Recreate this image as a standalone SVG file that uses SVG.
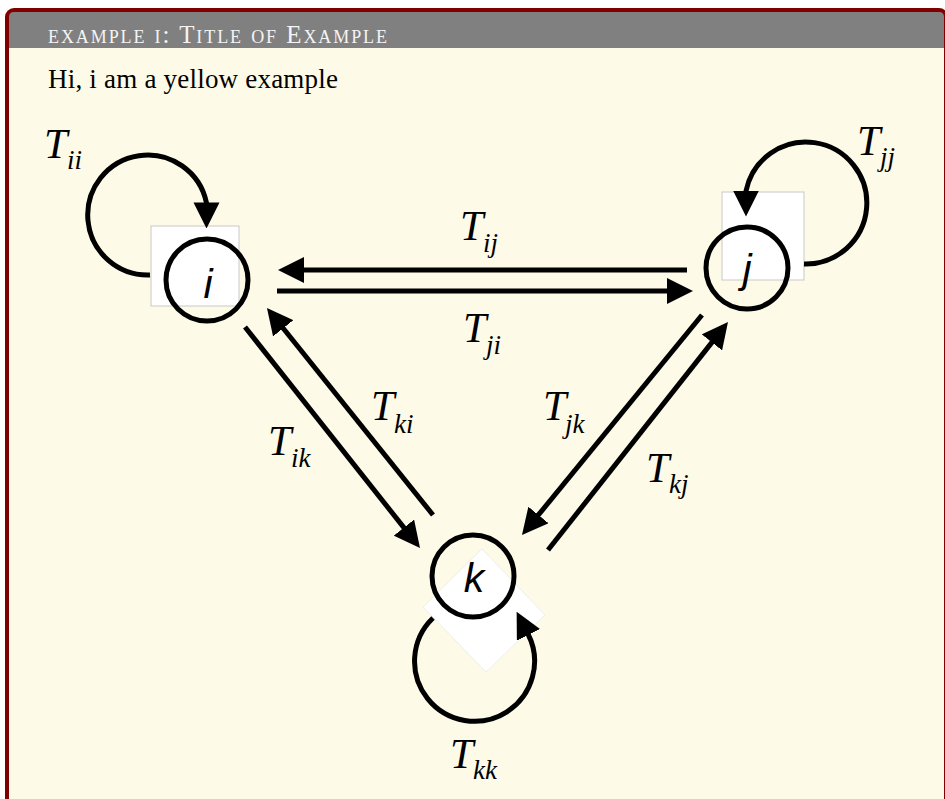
<svg xmlns="http://www.w3.org/2000/svg" width="945" height="799" viewBox="0 0 945 799">
  <defs>
    <marker id="ah" markerUnits="userSpaceOnUse" markerWidth="26" markerHeight="26" viewBox="0 0 26 26" refX="1" refY="13" orient="auto">
      <path d="M0,0 L26,13 L0,26 Z" fill="#000"/>
    </marker>
    <style>
      .edge { fill: none; stroke: #000; stroke-width: 5; marker-end: url(#ah); }
      .ring { fill: none; stroke: #000; stroke-width: 5; }
      .box { fill: #fff; stroke: #c8c8c8; stroke-width: 1; }
      .nlbl { font-family: "Liberation Sans", Arial, sans-serif; font-style: italic; font-size: 41px; fill: #000; text-anchor: middle; }
      .lbl { font-family: "Liberation Serif", "Times New Roman", serif; font-style: italic; font-size: 42px; fill: #000; }
      .sub { font-size: 27px; }
    </style>
  </defs>

  <!-- frame -->
  <g id="frame">
    <rect x="5" y="8" width="943" height="840" rx="9" fill="#800000"/>
    <rect x="9" y="48" width="935" height="800" fill="#fefae8"/>
    <path d="M9,48 V17 Q9,12 14,12 H939 Q944,12 944,17 V48 Z" fill="#808080"/>
    <text x="48" y="43" textLength="339" lengthAdjust="spacing" style="font-family:'Liberation Serif','Times New Roman',serif;font-size:25px;font-variant:small-caps;fill:#f4f4f4">example i: Title of Example</text>
    <text x="48" y="88" textLength="290" lengthAdjust="spacing" style="font-family:'Liberation Serif','Times New Roman',serif;font-size:27px;fill:#000">Hi, i am a yellow example</text>
  </g>

  <!-- nodes -->
  <g id="node-i">
    <rect class="box" x="151" y="226" width="88" height="80"/>
    <circle class="ring" cx="207" cy="280" r="41"/>
    <text class="nlbl" x="208" y="298">i</text>
  </g>
  <g id="node-j">
    <rect class="box" x="722" y="192" width="82" height="88"/>
    <circle class="ring" cx="747" cy="268" r="41"/>
    <text class="nlbl" x="747" y="283">j</text>
  </g>
  <g id="node-k">
    <polygon points="482,549 545,615 486,672 423,607" fill="#fff" stroke="#eeeeee" stroke-width="1"/>
    <circle class="ring" cx="473" cy="576" r="41"/>
    <text class="nlbl" x="474" y="592">k</text>
  </g>

  <!-- connectors -->
  <g id="connectors">
    <!-- self loops -->
    <path class="edge" d="M150,275 A60,60 0 1,1 206.5,203 L206.5,203.5"/>
    <path class="edge" d="M804,264 A61,61 0 1,0 746,191 L746,191.5"/>
    <path class="edge" d="M433,618 A60,60 0 1,0 528,634"/>
    <!-- i <-> j -->
    <path class="edge" d="M687,270 L303,270"/>
    <path class="edge" d="M277,291 L668,291"/>
    <!-- i <-> k -->
    <path class="edge" d="M245,327 L404.5,528.4"/>
    <path class="edge" d="M433,515 L282.6,327.5"/>
    <!-- j <-> k -->
    <path class="edge" d="M702,315 L537.8,515.7"/>
    <path class="edge" d="M548,550 L712.5,341.6"/>

    <!-- labels -->
    <text class="lbl" x="44" y="158">T<tspan class="sub" x="67" y="169">ii</tspan></text>
    <text class="lbl" x="857" y="155">T<tspan class="sub" x="880" y="166">jj</tspan></text>
    <text class="lbl" x="460" y="240">T<tspan class="sub" x="483" y="252">ij</tspan></text>
    <text class="lbl" x="463" y="342">T<tspan class="sub" x="486" y="354">ji</tspan></text>
    <text class="lbl" x="268" y="455">T<tspan class="sub" x="291" y="467">ik</tspan></text>
    <text class="lbl" x="371" y="420">T<tspan class="sub" x="394" y="433">ki</tspan></text>
    <text class="lbl" x="543" y="420">T<tspan class="sub" x="565" y="433">jk</tspan></text>
    <text class="lbl" x="646" y="482">T<tspan class="sub" x="669" y="493">kj</tspan></text>
    <text class="lbl" x="450" y="768">T<tspan class="sub" x="473" y="779">kk</tspan></text>
  </g>
</svg>
